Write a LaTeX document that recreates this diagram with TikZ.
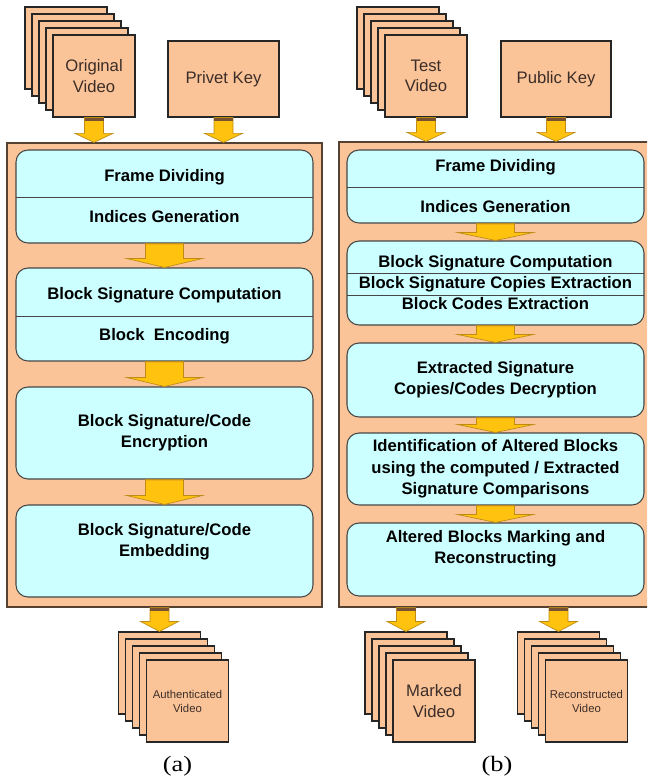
\documentclass[tikz,border=0pt]{standalone}
\usepackage{fontspec}
\setmainfont{Liberation Sans}
\newfontfamily\capfont{Liberation Serif}
\usetikzlibrary{calc}
\def\pxu{0.75pt}
\definecolor{peach}{RGB}{250,196,152}
\definecolor{lcyan}{RGB}{204,255,255}
\definecolor{gold}{RGB}{255,194,14}
\definecolor{goldline}{RGB}{190,140,20}
\definecolor{stripcol}{RGB}{120,80,50}
\definecolor{panelline}{RGB}{85,65,50}
\definecolor{boxline}{RGB}{70,70,70}
\definecolor{vidtxt}{RGB}{60,45,40}
\newcommand{\bigarrow}[6]{%
  \path[arrowfill] let \p1=(#1), \p2=(#2) in
    (\x1-#3*\pxu,\y1) -- (\x1+#3*\pxu,\y1) -- (\x1+#3*\pxu,\y2+#5*\pxu)
    -- (\x1+#4*\pxu,\y2+#5*\pxu) -- (\x1,\y2) -- (\x1-#4*\pxu,\y2+#5*\pxu)
    -- (\x1-#3*\pxu,\y2+#5*\pxu) -- cycle;
  \fill[stripcol] let \p1=(#1) in (\x1-#3*\pxu,\y1) rectangle (\x1+#3*\pxu,\y1-#6*\pxu);
}
\newcommand{\vstack}[4]{%
  \foreach \k in {1,...,4} {
    \node[sheet] (#1\k) at ({#2-7*(5-\k)},{#3-7*(5-\k)}) {};
  }
  \node[sheet,#4] (#15) at (#2,#3) {};
}
\begin{document}
\begin{tikzpicture}[x=0.75pt,y=-0.75pt,
  panel/.style={draw=panelline, line width=0.9pt, fill=peach, rectangle, inner sep=0pt},
  inbox/.style={draw=boxline, line width=0.8pt, fill=lcyan, rounded corners=9pt, inner sep=0pt, minimum width=297*0.75pt},
  divline/.style={draw=boxline, line width=0.7pt},
  sheet/.style={draw=black!85, line width=0.8pt, fill=peach, minimum width=82*0.75pt, minimum height=82*0.75pt, inner sep=0pt},
  keybox/.style={draw=black!85, line width=0.8pt, fill=peach, minimum height=76*0.75pt, inner sep=0pt, font=\fontsize{12.5}{15.5}\selectfont, text=vidtxt},
  steptext/.style={font=\bfseries\fontsize{12.5}{15}\selectfont, align=center, inner sep=0pt},
  vidtext/.style={font=\fontsize{12.5}{15.5}\selectfont, text=vidtxt, align=center, inner sep=0pt},
  smalltext/.style={font=\fontsize{8.5}{10.5}\selectfont, text=vidtxt, align=center, inner sep=0pt},
  arrowfill/.style={fill=gold, draw=goldline, line width=0.5pt, line join=miter},
  caplabel/.style={font=\capfont\fontsize{16.5}{19}\selectfont, inner sep=0pt}
]
\useasboundingbox (0,0) rectangle (647,782);
\clip (0,0) rectangle (647,782);
\fill[white] (0,0) rectangle (647,782);

% ---------- panels
\node[panel, minimum width=315*\pxu, minimum height=464*\pxu] (pa) at (164.5,375) {};
\node[panel, minimum width=320*\pxu, minimum height=465*\pxu] (pb) at (499,374.5) {};

% ---------- inputs (a)
\vstack{ov}{94}{76}{}
\node[vidtext] (ovt) at (ov5) {Original\\Video};
\node[keybox, minimum width=111*\pxu] (pk) at (223.5,79) {Privet Key};
% ---------- inputs (b)
\vstack{tv}{426}{76}{}
\node[vidtext] (tvt) at (tv5) {Test\\Video};
\node[keybox, minimum width=110*\pxu] (uk) at (556,79) {Public Key};

% ---------- input arrows
\bigarrow{ov5.south}{pa.north}{9.5}{19}{9}{3}
\bigarrow{pk.south}{pa.north}{9.5}{19}{9}{3}
\bigarrow{tv5.south}{pb.north}{9.5}{19}{9}{3}
\bigarrow{uk.south}{pb.north}{9.5}{19}{9}{3}

% ---------- steps (a)
\node[inbox, minimum height=93*\pxu] (a1) at (164.5,196.5) {};
\draw[divline] (16,197) -- (313,197);
\node[steptext] (a1t) at (164.5,177) {Frame Dividing};
\node[steptext] (a1u) at (164.5,217) {Indices Generation};

\node[inbox, minimum height=93*\pxu] (a2) at (164.5,314.5) {};
\draw[divline] (16,316) -- (313,316);
\node[steptext] (a2t) at (164.5,295) {Block Signature Computation};
\node[steptext] (a2u) at (164.5,336) {Block\ \ Encoding};

\node[inbox, minimum height=92*\pxu] (a3) at (164.5,433) {};
\node[steptext] (a3t) at (164.5,433) {Block Signature/Code\\[1pt]Encryption};

\node[inbox, minimum height=92*\pxu] (a4) at (164.5,551) {};
\node[steptext] (a4t) at (164.5,542) {Block Signature/Code\\[1pt]Embedding};

\bigarrow{a1.south}{a2.north}{19}{38}{9}{0}
\bigarrow{a2.south}{a3.north}{19}{38}{9}{0}
\bigarrow{a3.south}{a4.north}{19}{38}{9}{0}

% ---------- steps (b)
\node[inbox, minimum height=73*\pxu] (b1) at (495.5,186.5) {};
\draw[divline] (347,187) -- (644,187);
\node[steptext] (b1t) at (495.5,167) {Frame Dividing};
\node[steptext] (b1u) at (495.5,207) {Indices Generation};

\node[inbox, minimum height=84*\pxu] (b2) at (495.5,283) {};
\draw[divline] (347,273.5) -- (644,273.5);
\draw[divline] (347,295.5) -- (644,295.5);
\node[steptext] (b2t) at (495.5,263) {Block Signature Computation};
\node[steptext] (b2u) at (495.5,284) {Block Signature Copies Extraction};
\node[steptext] (b2v) at (495.5,304) {Block Codes Extraction};

\node[inbox, minimum height=74*\pxu] (b3) at (495.5,380) {};
\node[steptext] (b3t) at (495.5,380) {Extracted Signature\\[1pt]Copies/Codes Decryption};

\node[inbox, minimum height=72*\pxu] (b4) at (495.5,469) {};
\node[steptext] (b4t) at (495.5,469) {Identification of Altered Blocks\\[1pt]using the computed / Extracted\\[1pt]Signature Comparisons};

\node[inbox, minimum height=73*\pxu] (b5) at (495.5,559.5) {};
\node[steptext] (b5t) at (495.5,549) {Altered Blocks Marking and\\[1pt]Reconstructing};

\bigarrow{b1.south}{b2.north}{19}{38}{8}{0}
\bigarrow{b2.south}{b3.north}{19}{38}{8}{0}
\bigarrow{b3.south}{b4.north}{19}{38}{8}{0}
\bigarrow{b4.south}{b5.north}{19}{38}{8}{0}

% ---------- outputs
\vstack{ao}{187.5}{701}{}
\node[smalltext] (aot) at (ao5) {Authenticated\\Video};
\vstack{mo}{434}{701}{}
\node[vidtext] (mot) at (mo5) {Marked\\Video};
\vstack{ro}{586.5}{701}{}
\node[smalltext] (rot) at (ro5) {Reconstructed\\Video};

\bigarrow{ao1.north |- pa.south}{ao1.north}{9.5}{19}{10}{3}
\bigarrow{mo1.north |- pb.south}{mo1.north}{9.5}{19}{10}{3}
\bigarrow{ro1.north |- pb.south}{ro1.north}{9.5}{19}{10}{3}

% ---------- captions
\node[caplabel] (capa) at (177.5,766.5) {\scalebox{1.2}[1]{(a)}};
\node[caplabel] (capb) at (497,766.5) {\scalebox{1.2}[1]{(b)}};
\end{tikzpicture}
\end{document}
